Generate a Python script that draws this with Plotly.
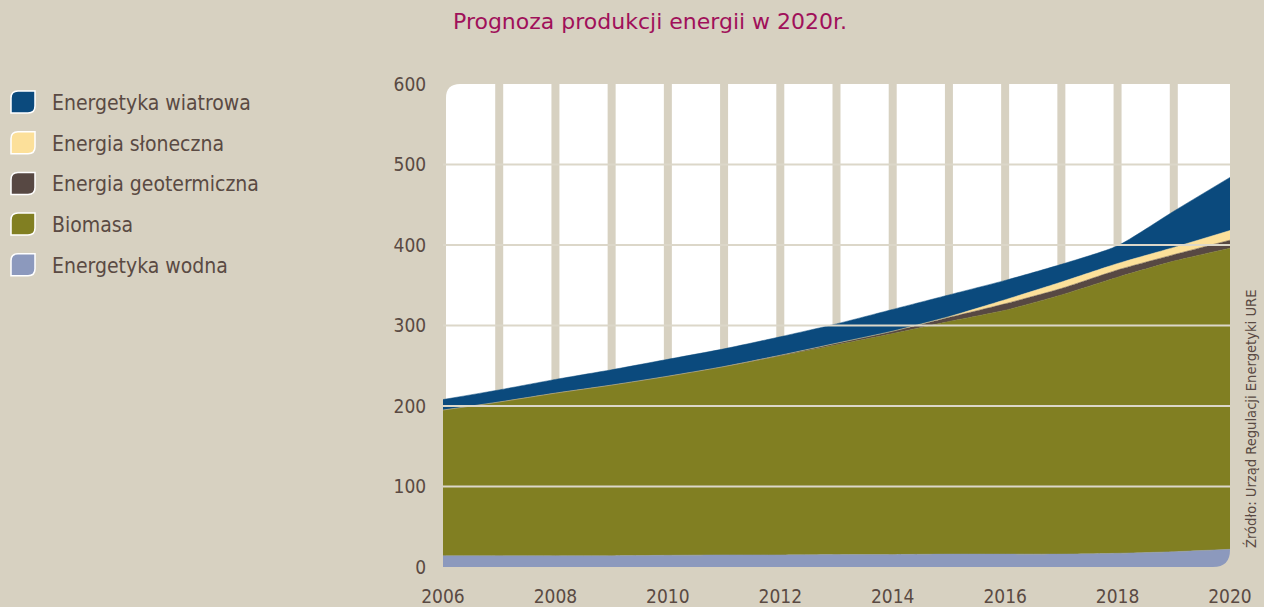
import plotly.graph_objects as go

# ---------------- data ----------------
years = list(range(2006, 2021))
wodna = [14, 14, 14, 14, 14.5, 15, 15, 15.5, 15.5, 16, 16, 16, 17, 19, 22]
biomasa = [181, 191, 202, 212, 222.5, 234, 247, 260.5, 274.5, 289, 303, 322, 343, 361, 374]
geotermiczna = [0, 0, 0, 0, 0, 0, 1, 2, 3, 5, 8, 8, 9, 8, 10]
sloneczna = [0, 0, 0, 0, 0, 0, 0, 0, 0, 1, 5, 8, 8, 9, 12]
wiatrowa = [13, 15, 17, 19, 21, 22, 23, 24, 27, 27, 24, 22, 22, 45, 66]

x_ticks = [2006, 2008, 2010, 2012, 2014, 2016, 2018, 2020]
y_ticks = [0, 100, 200, 300, 400, 500, 600]

title_text = "Prognoza produkcji energii w 2020r."
source_text = "Źródło: Urząd Regulacji Energetyki URE"

legend_names = ["Energetyka wiatrowa", "Energia słoneczna", "Energia geotermiczna",
                "Biomasa", "Energetyka wodna"]

# ---------------- style ----------------
BG = "#d7d1c1"
TXT = "#5a4a43"
C_WIND = "#0b4a7d"
C_SUN = "#fce09a"
C_GEO = "#574843"
C_BIO = "#817f22"
C_HYD = "#8c99bd"
COND = "Liberation Sans Narrow, DejaVu Sans Condensed, Roboto Condensed, Arial Narrow, sans-serif"

W, H = 1264, 607
L, R, T, B = 443, 1230, 84, 567


def px(x):
    return (x - L) / (R - L)


def py(y):
    return (B - y) / (B - T)


fig = go.Figure()

series = [
    ("Energetyka wodna", wodna, C_HYD),
    ("Biomasa", biomasa, C_BIO),
    ("Energia geotermiczna", geotermiczna, C_GEO),
    ("Energia słoneczna", sloneczna, C_SUN),
    ("Energetyka wiatrowa", wiatrowa, C_WIND),
]
for name, vals, col in series:
    fig.add_trace(go.Scatter(
        x=years, y=vals, name=name, stackgroup="one", mode="lines",
        line=dict(width=0.5, color=col, shape="spline", smoothing=0.6),
        fillcolor=col, showlegend=False, hoverinfo="x+y+name",
    ))

shapes = []
# white plot panel with rounded top-left corner
r = 14
x0, x1, y0, y1 = 446, R, T, B
rx, ry = r / (R - L), r / (B - T)
path = (f"M {px(x0)},{py(y1)} L {px(x0)},{py(y0) - ry} "
        f"Q {px(x0)},{py(y0)} {px(x0) + rx},{py(y0)} "
        f"L {px(x1)},{py(y0)} L {px(x1)},{py(y1)} Z")
shapes.append(dict(type="path", path=path, xref="paper", yref="paper",
                   fillcolor="white", line=dict(width=0), layer="below"))
# vertical beige bars at each year
for yr in years[1:-1]:
    shapes.append(dict(type="line", xref="x", yref="paper", x0=yr, x1=yr, y0=0, y1=1,
                       line=dict(color=BG, width=8), layer="below"))
# horizontal gridlines above the areas
for v in y_ticks[1:-1]:
    shapes.append(dict(type="line", xref="paper", yref="y", x0=0, x1=1, y0=v, y1=v,
                       line=dict(color="#dcd7c9", width=2), layer="above"))
# rounded bottom-right corner cut
rc = 17
rcx, rcy = rc / (R - L), rc / (B - T)
e = 2 / (R - L)
ey = 2 / (B - T)
path = (f"M {1 - rcx},{0 - ey} L {1 - rcx},0 Q 1,0 1,{rcy} "
        f"L {1 + e},{rcy} L {1 + e},{0 - ey} Z")
shapes.append(dict(type="path", path=path, xref="paper", yref="paper",
                   fillcolor=BG, line=dict(width=0), layer="above"))

# manual legend
annotations = []
leg_colors = [C_WIND, C_SUN, C_GEO, C_BIO, C_HYD]
for i, (nm, col) in enumerate(zip(legend_names, leg_colors)):
    cy = 102 + 40.7 * i
    sx0, sx1, sy0, sy1 = 11, 35, cy - 11, cy + 11
    rr = 7
    p = (f"M {px(sx0)},{py(sy1)} L {px(sx0)},{py(sy0 + rr)} "
         f"Q {px(sx0)},{py(sy0)} {px(sx0 + rr)},{py(sy0)} "
         f"L {px(sx1)},{py(sy0)} L {px(sx1)},{py(sy1 - rr)} "
         f"Q {px(sx1)},{py(sy1)} {px(sx1 - rr)},{py(sy1)} Z")
    shapes.append(dict(type="path", path=p, xref="paper", yref="paper",
                       fillcolor=col, line=dict(color="white", width=1.5)))
    annotations.append(dict(text=nm, x=px(50), y=py(cy + 1), xref="paper", yref="paper",
                            xanchor="left", yanchor="middle", showarrow=False,
                            font=dict(family=COND, size=21, color=TXT)))

annotations.append(dict(text=title_text, x=px(649.5), y=py(22), xref="paper", yref="paper",
                        xanchor="center", yanchor="middle", showarrow=False,
                        font=dict(family="DejaVu Sans, Verdana, sans-serif", size=22,
                                  color="#a0105a")))
annotations.append(dict(text=source_text, x=px(1251), y=py(419), xref="paper", yref="paper",
                        xanchor="center", yanchor="middle", showarrow=False, textangle=-90,
                        font=dict(family=COND, size=14.6, color=TXT)))

fig.update_layout(
    width=W, height=H,
    margin=dict(l=L, r=W - R, t=T, b=H - B, pad=0, autoexpand=False),
    paper_bgcolor=BG, plot_bgcolor=BG,
    shapes=shapes, annotations=annotations,
    xaxis=dict(range=[2006, 2020], tickvals=x_ticks, showgrid=False, zeroline=False,
               showline=False, ticks="outside", ticklen=12, tickcolor="rgba(0,0,0,0)",
               tickfont=dict(family=COND, size=19, color=TXT), fixedrange=True,
               automargin=False),
    yaxis=dict(range=[0, 600], tickvals=y_ticks, showgrid=False, zeroline=False,
               showline=False, ticks="outside", ticklen=12, tickcolor="rgba(0,0,0,0)",
               tickfont=dict(family=COND, size=19, color=TXT), fixedrange=True,
               automargin=False),
    showlegend=False,
)

fig.write_html("out.html", config={"displayModeBar": False},
               post_script="document.body.style.margin='0';document.body.style.background='%s';" % BG)
